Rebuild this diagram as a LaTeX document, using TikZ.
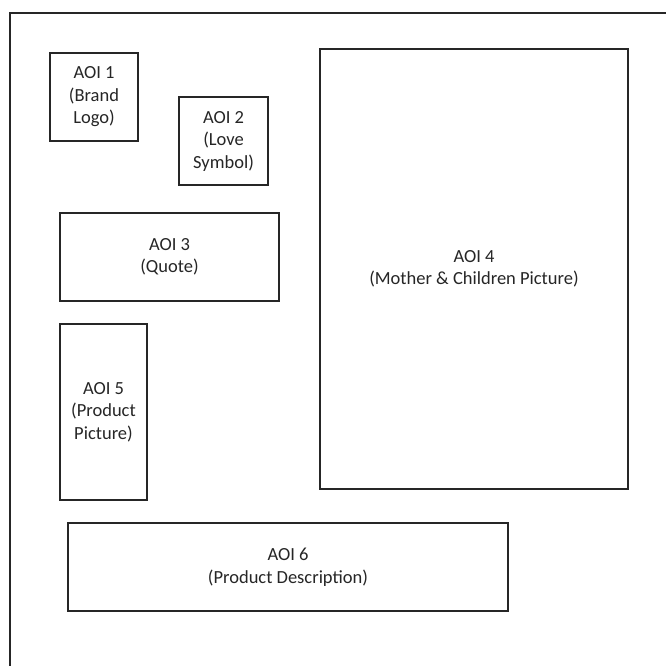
\documentclass[tikz,border=0pt]{standalone}
\usepackage{fontspec}
\setmainfont{Carlito}
\begin{document}
\begin{tikzpicture}[x=1pt,y=-1pt,
  aoi/.style={draw=black!85,line width=1.4pt,align=center,inner sep=0pt,
    font=\fontsize{18.5}{22.5}\selectfont,text=black!85}]
\useasboundingbox (0,0) rectangle (665,666);
\fill[white] (0,0) rectangle (665,666);
\draw[black!85,line width=1.4pt] (10,680) -- (10,13) -- (680,13);
\node[aoi,minimum width=88pt,minimum height=88pt] (a1) at (94,97) {AOI 1\\(Brand\\Logo)};
\node[aoi,minimum width=89pt,minimum height=88pt] (a2) at (223.5,141) {AOI 2\\(Love\\Symbol)};
\node[aoi,minimum width=219pt,minimum height=88pt] (a3) at (169.5,257) {AOI 3\\(Quote)};
\node[aoi,minimum width=308pt,minimum height=440pt] (a4) at (474,269) {AOI 4\\(Mother \& Children Picture)};
\node[aoi,minimum width=87pt,minimum height=176pt] (a5) at (103.5,412) {AOI 5\\(Product\\Picture)};
\node[aoi,minimum width=440pt,minimum height=88pt] (a6) at (288,567) {AOI 6\\(Product Description)};
\end{tikzpicture}
\end{document}
